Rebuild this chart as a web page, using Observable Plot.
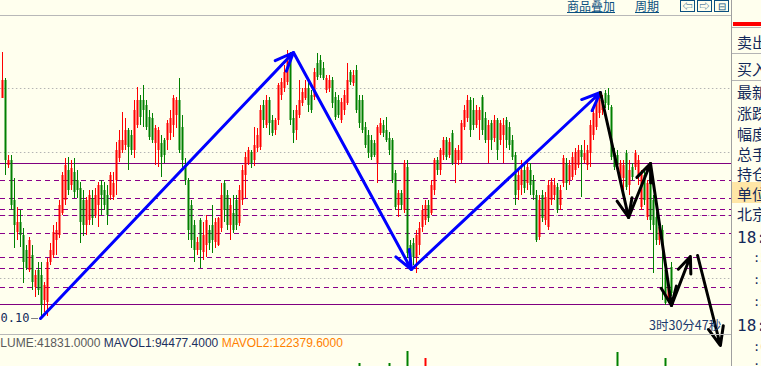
<!DOCTYPE html>
<html><head><meta charset="utf-8">
<script src="https://cdn.jsdelivr.net/npm/d3@7"></script>
<script src="https://cdn.jsdelivr.net/npm/@observablehq/plot@0.6"></script>
<style>
html,body{margin:0;padding:0;background:#FFFFEE;}
#wrap{position:relative;width:761px;height:366px;overflow:hidden;background:#FFFFEE;font-family:"Noto Sans CJK SC",sans-serif;}
.abs{position:absolute;white-space:nowrap;}
.hdr{font-size:12px;line-height:12px;color:#0B5080;text-decoration:underline;}
.btn{position:absolute;top:0px;width:13px;height:10px;border:1px solid #0B5080;font-size:10px;line-height:10px;color:#0B5080;text-align:center;}
.pl{position:absolute;left:737px;font-size:15px;line-height:15px;color:#13295A;white-space:nowrap;}
.tm{position:absolute;left:737px;font-family:"DejaVu Sans Mono",monospace;font-size:16px;line-height:16px;color:#13295A;white-space:nowrap;}
.ts{position:absolute;left:753px;font-family:"DejaVu Sans Mono",monospace;font-size:12px;line-height:12px;color:#13295A;white-space:nowrap;}
.hl{position:absolute;left:732px;width:29px;height:1px;background:#B4B4B4;}
#main,#vol{position:absolute;left:0;}
#main{top:0;} #vol{top:334px;}
</style></head><body><div id="wrap">
<div id="main"></div>
<div id="vol"></div>
<div class="abs" style="left:0;top:15px;width:731px;height:1px;background:#B8B8B8"></div>
<div class="abs" style="left:0;top:334px;width:731px;height:1px;background:#B8B8B8"></div>
<div class="abs" style="left:731px;top:0;width:1px;height:366px;background:#A0A0A0"></div>
<div class="abs hdr" style="left:567px;top:0px">商品叠加</div>
<div class="abs hdr" style="left:635px;top:0px">周期</div>
<div class="btn" style="left:680px">⇦</div>
<div class="btn" style="left:697px">⇨</div>
<div class="btn" style="left:714px">⊟</div>
<div class="abs" style="left:733px;top:22px;width:28px;height:4px;background:#FF0000"></div>
<div class="hl" style="top:27px"></div>
<div class="hl" style="top:53px"></div>
<div class="hl" style="top:80px"></div>
<div class="abs" style="left:732px;top:182px;width:29px;height:21px;background:#FFE6A6"></div>
<div class="pl" style="top:34px">卖出</div>
<div class="pl" style="top:61px">买入</div>
<div class="pl" style="top:84px">最新</div>
<div class="pl" style="top:105px">涨跌</div>
<div class="pl" style="top:126px">幅度</div>
<div class="pl" style="top:146px">总手</div>
<div class="pl" style="top:166px">持仓</div>
<div class="pl" style="top:186px">单位</div>
<div class="pl" style="top:206px">北京</div>
<div class="tm" style="top:230px">18:</div>
<div class="ts" style="top:252px">:5</div>
<div class="ts" style="top:274px">:5</div>
<div class="ts" style="top:296px">:5</div>
<div class="tm" style="top:318px">18:</div>
<div class="ts" style="top:341px">:0</div>
<div class="ts" style="top:360px">:</div>
<div class="abs" style="left:649px;top:318px;font-size:12.5px;line-height:13px;color:#1C3A6E">3时30分47秒</div>
<div class="abs" style="left:-17px;top:337px;font-family:'Liberation Sans',Arial,sans-serif;font-size:12px;line-height:13px;">
<span style="color:#5A5A5A">VOLUME:41831.0000</span> <span style="color:#1C2F5E">MAVOL1:94477.4000</span> <span style="color:#FF8000">MAVOL2:122379.6000</span></div>
</div>
<script>
// candle values (price units), index 0..223
const opens = [
302,320,235,240,200,168,178,165,150,130,
145,113,130,125,100,98,138,145,160,165,
187,200,230,215,228,220,212,200,175,180,
202,185,195,215,210,205,205,203,220,242,
250,255,270,265,250,275,300,300,295,283,
282,257,250,257,260,260,267,275,285,300,
273,235,220,195,175,150,180,148,155,170,
175,158,155,172,217,205,175,187,200,177,
200,225,237,248,240,252,253,295,275,300,
280,270,280,305,312,318,343,282,270,285,
297,302,312,305,303,337,340,332,310,312,
320,303,300,280,290,297,328,317,330,300,
300,273,265,260,257,237,267,275,270,262,
260,227,195,207,190,233,155,157,143,155,
173,180,195,187,210,240,230,245,260,245,
267,237,240,240,273,282,300,290,275,280,
303,282,260,277,262,280,260,265,280,273,
260,245,210,215,230,217,230,220,205,163,
205,180,173,200,205,213,195,217,237,220,
223,230,235,250,240,235,247,265,273,287,
290,307,305,293,247,245,220,222,247,215,
233,233,225,193,225,183,223,200,183,160,
170,130,102,133];
const closes = [
320,240,240,195,175,178,165,138,132,160,
118,125,110,95,115,138,150,168,170,195,
225,235,210,232,208,210,178,175,200,205,
182,205,215,205,195,185,225,217,250,260,
260,270,253,250,290,300,283,290,273,263,
260,272,270,243,245,277,282,302,300,250,
240,220,170,160,150,158,150,165,180,157,
160,178,182,205,190,175,195,170,175,210,
230,243,250,237,255,265,290,280,300,277,
267,280,315,318,328,345,280,267,290,300,
308,312,295,290,328,323,325,322,322,320,
297,283,285,298,305,320,318,325,290,277,
270,255,247,243,245,273,277,267,260,250,
220,193,207,195,237,147,138,143,165,172,
190,195,182,215,240,230,250,260,243,258,
237,250,250,277,290,300,270,275,290,290,
270,260,275,260,280,250,277,275,260,255,
243,205,225,230,212,233,215,205,160,200,
182,203,215,218,215,190,210,242,217,235,
243,248,250,243,247,250,275,287,303,300,
300,297,295,243,233,235,237,235,213,230,
223,247,240,227,200,217,180,175,160,173,
155,97,115,107];
const highs = [
348,322,245,245,222,193,190,172,155,163,
155,130,138,138,118,142,157,175,178,200,
228,242,243,240,242,230,218,210,203,210,
210,212,218,220,218,215,228,228,258,270,
288,282,272,270,300,313,305,315,300,290,
287,275,273,265,262,280,290,305,303,322,
285,242,222,200,180,163,182,178,185,175,
195,182,183,217,220,210,202,205,205,215,
235,248,253,250,273,272,295,300,305,303,
285,282,317,322,335,350,348,290,295,320,
312,320,320,310,332,347,345,338,325,325,
323,308,305,302,310,337,330,330,335,305,
305,278,270,265,260,275,282,280,283,268,
262,230,210,210,240,240,160,162,170,178,
195,200,200,220,242,243,252,263,263,262,
270,252,255,280,295,305,303,302,295,293,
305,288,280,280,285,282,280,282,283,278,
265,248,230,240,235,240,237,225,210,205,
210,208,220,222,222,217,215,245,242,240,
248,252,255,255,260,255,280,292,305,303,
305,310,312,295,252,250,240,240,250,240,
237,250,245,230,230,220,227,205,188,178,
175,135,120,138];
const lows = [
302,225,232,190,152,160,153,117,130,128,
110,103,105,82,88,84,135,142,145,162,
185,195,205,210,202,202,157,164,165,175,
175,182,173,185,190,175,200,200,205,238,
247,250,230,245,242,272,275,273,270,260,
257,235,233,223,237,250,260,263,272,247,
232,215,160,152,138,145,132,140,143,150,
147,152,154,168,178,170,160,167,170,174,
195,202,235,232,234,248,250,272,272,265,
264,265,275,300,308,315,275,257,260,282,
294,300,288,287,300,320,322,320,307,308,
292,280,282,277,285,295,315,314,287,272,
267,252,242,240,243,217,265,263,258,245,
217,190,183,190,187,142,132,135,127,145,
168,175,178,185,205,225,225,240,240,242,
235,217,235,237,270,278,263,270,272,260,
265,257,237,250,258,240,255,237,252,250,
240,195,200,205,207,210,205,200,158,160,
178,175,170,195,200,187,190,213,210,215,
220,225,232,203,237,230,233,260,270,282,
285,292,290,240,230,228,215,210,210,205,
220,230,215,190,195,180,170,127,155,155,
100,95,97,104];

// reference levels (price units)
const gridLevels = [312, 248, 185, 122];
const solidLevels = [237, 96];
const dashedLevels = [220, 202, 191, 185, 167, 143, 132, 113];

// hand-drawn trend lines: candle index / price
const blueIdx = [12.67, 97, 136.3, 199.3];
const bluePrice = [82, 348, 131, 308];
const blackIdx = [199.3, 208.7, 216, 223, 229.3];
const blackPrice = [308, 183, 237, 95, 144];
const lastArrowIdx = [231.7, 239.3];
const lastArrowPrice = [145, 55];

// volume bars that poke into view
const volIdx = [119, 129, 135, 141, 205, 221];
const volValue = [242500, 242500, 272500, 255000, 270000, 255000];
const volUp = [false, false, false, true, false, false];

const RED = "#FF0000", GREEN = "#008000";
const candles = opens.map((o, i) => ({i, o, c: closes[i], h: highs[i], l: lows[i]}));
const col = d => d.c >= d.o ? RED : GREEN;

function segs(xs, ps) {
  const out = [];
  for (let k = 0; k < xs.length - 1; k++) out.push({x1: xs[k], y1: ps[k], x2: xs[k + 1], y2: ps[k + 1]});
  return out;
}
const lowC = candles.reduce((a, b) => (b.l < a.l ? b : a));
const arrowOpts = {x1: "x1", y1: "y1", x2: "x2", y2: "y2", strokeWidth: 3, headLength: 10, headAngle: 45};

const main = Plot.plot({
  width: 761, height: 366, margin: 0,
  x: {domain: [0, 243], range: [2, 731], axis: null},
  y: {domain: [65, 385], range: [335, 15], axis: null},
  color: {type: "identity"},
  style: {background: "transparent", overflow: "visible"},
  marks: [
    Plot.ruleY(gridLevels, {x1: -0.7, x2: 243, stroke: "#B4B4B4", strokeDasharray: "1.5,2.5"}),
    Plot.ruleY(dashedLevels, {x1: -0.7, x2: 243, stroke: "#8A008A", strokeWidth: 1.5, strokeDasharray: "5,4", shapeRendering: "crispEdges"}),
    Plot.ruleY(solidLevels, {x1: -0.7, x2: 243, stroke: "#800080", strokeWidth: 1.5, shapeRendering: "crispEdges"}),
    Plot.ruleX(candles, {x: "i", y1: "l", y2: "h", stroke: col, strokeWidth: 1}),
    Plot.ruleX(candles, {x: "i", y1: "o", y2: d => (d.o === d.c ? d.c + 0.8 : d.c), stroke: col, strokeWidth: 2}),
    Plot.text([lowC], {x: "i", y: "l", text: () => "0.10", dx: -12, textAnchor: "end", fill: "#13295A", fontSize: 12, fontFamily: "DejaVu Sans Mono"}),
    Plot.ruleY([lowC], {y: "l", x1: d => d.i - 3.3, x2: d => d.i - 1, stroke: "#808080"}),
    Plot.arrow(segs(blueIdx, bluePrice), {...arrowOpts, stroke: "#0000FF"}),
    Plot.arrow(segs(blackIdx, blackPrice), {...arrowOpts, stroke: "#000000"}),
    Plot.arrow(segs(lastArrowIdx, lastArrowPrice), {...arrowOpts, stroke: "#000000"})
  ]
});
document.getElementById("main").appendChild(main);

const volData = volIdx.map((i, k) => ({i, v: volValue[k], up: volUp[k]}));
const vol = Plot.plot({
  width: 761, height: 32, margin: 0,
  x: {domain: [0, 243], range: [2, 731], axis: null},
  y: {domain: [0, 300000], range: [126, 6], axis: null},
  color: {type: "identity"},
  style: {background: "transparent"},
  marks: [
    Plot.ruleX(volData, {x: "i", y1: 0, y2: "v", stroke: d => d.up ? RED : GREEN, strokeWidth: 2})
  ]
});
document.getElementById("vol").appendChild(vol);
</script>
</body></html>
